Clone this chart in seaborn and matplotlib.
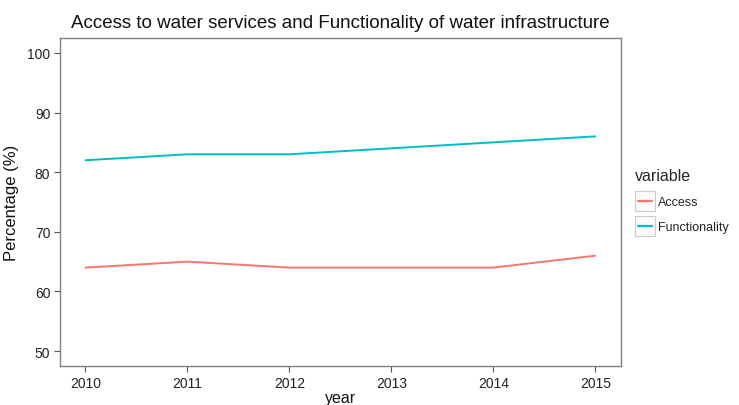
import matplotlib
matplotlib.use("Agg")
import matplotlib.pyplot as plt
import seaborn as sns
import pandas as pd
from matplotlib.legend_handler import HandlerLine2D
from matplotlib.patches import Rectangle
from matplotlib.lines import Line2D

years = [2010, 2011, 2012, 2013, 2014, 2015]
access = [64, 65, 64, 64, 64, 66]
functionality = [82, 83, 83, 84, 85, 86]
series_names = ["Access", "Functionality"]
y_ticks = [50, 60, 70, 80, 90, 100]

df = pd.DataFrame({
    "year": years * 2,
    "value": access + functionality,
    "variable": [series_names[0]] * len(years) + [series_names[1]] * len(years),
})

sns.set_theme(style="white")
plt.rcParams["font.family"] = ["Liberation Sans", "DejaVu Sans"]

fig = plt.figure(figsize=(7.39, 4.06), dpi=100)
ax = fig.add_axes([0.0812, 0.096, 0.7588, 0.808])

sns.lineplot(data=df, x="year", y="value", hue="variable",
             palette=["#F8766D", "#00BFC4"], linewidth=1.4, ax=ax)

ax.set_xlim(2009.75, 2015.25)
ax.set_ylim(47.5, 102.5)
ax.set_xticks(years)
ax.set_xticklabels([str(y) for y in years])
ax.set_yticks(y_ticks)
ax.set_yticklabels([str(v) for v in y_ticks])
ax.tick_params(axis="both", length=4, width=0.8, color="#555555",
               labelsize=10, labelcolor="#222222", pad=3, direction="out")
ax.tick_params(axis="x", bottom=True)
ax.tick_params(axis="y", left=True)
for s in ax.spines.values():
    s.set_color("#808080")
    s.set_linewidth(1.0)
ax.grid(False)

ax.set_xlabel("year", fontsize=11.5, color="#111111", labelpad=0)
ax.set_ylabel("Percentage (%)", fontsize=12, color="#111111", labelpad=6)
ax.set_title("Access to water services and Functionality of water infrastructure",
             fontsize=13.5, color="#111111", pad=8)


class BoxedLine(HandlerLine2D):
    def create_artists(self, legend, orig_handle, xdescent, ydescent,
                       width, height, fontsize, trans):
        side = max(width, height * 1.6)
        rect = Rectangle((-xdescent, -ydescent - (side - height) / 2), width,
                         side, facecolor="#FAFAFA", edgecolor="#CCCCCC",
                         linewidth=0.8, transform=trans)
        yc = -ydescent + height / 2
        line = Line2D([-xdescent + 2, -xdescent + width - 2], [yc, yc],
                      color=orig_handle.get_color(), linewidth=1.6,
                      transform=trans)
        return [rect, line]


handles, labels = ax.get_legend_handles_labels()
leg = ax.legend(handles, labels, title="variable", loc="upper left",
                bbox_to_anchor=(1.01, 0.63), frameon=False,
                fontsize=9, title_fontsize=11.5, handlelength=1.6,
                handletextpad=0.25, borderaxespad=0.3, labelspacing=1.05,
                handler_map={Line2D: BoxedLine()})
leg._legend_box.align = "left"

fig.savefig("out.png", dpi=100)
